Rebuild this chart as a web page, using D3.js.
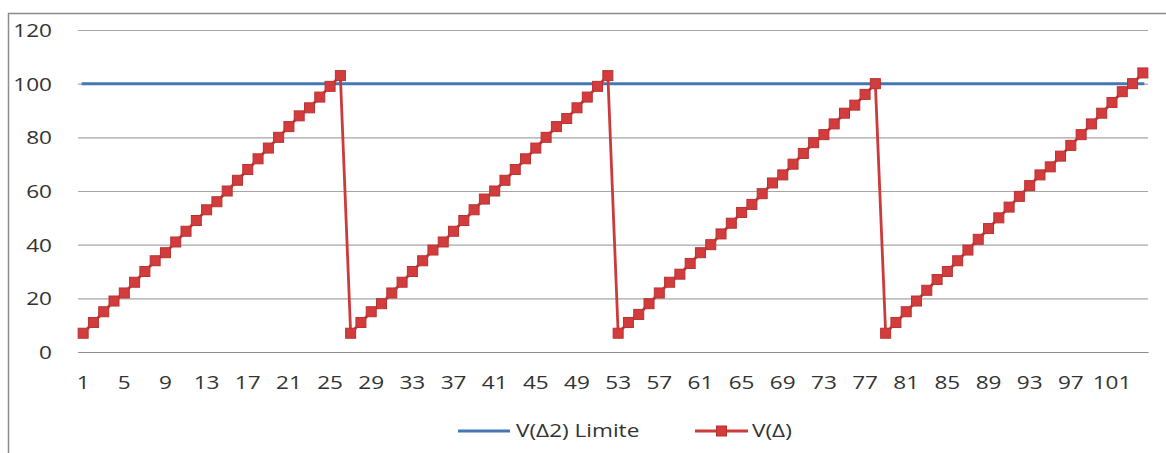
<!DOCTYPE html>
<html>
<head>
<meta charset="utf-8">
<script src="https://cdn.jsdelivr.net/npm/d3@7"></script>
<style>
  html, body { margin: 0; padding: 0; background: #ffffff; }
  svg { display: block; }
  text { font-family: "Open Sans", sans-serif; fill: #333333; }
</style>
</head>
<body>
<svg id="chart" width="1166" height="453"></svg>
<script>
// ---- data ----
const categories = d3.range(1, 105); // 1..104
const limitName = "V(Δ2) Limite";
const seriesName = "V(Δ)";
const limitValues = categories.map(() => 100);
const vDelta = [
  7, 11, 15, 19, 22, 26, 30, 34, 37, 41, 45, 49, 53, 56, 60, 64, 68, 72, 76, 80, 84, 88, 91, 95, 99, 103,
  7, 11, 15, 18, 22, 26, 30, 34, 38, 41, 45, 49, 53, 57, 60, 64, 68, 72, 76, 80, 84, 87, 91, 95, 99, 103,
  7, 11, 14, 18, 22, 26, 29, 33, 37, 40, 44, 48, 52, 55, 59, 63, 66, 70, 74, 78, 81, 85, 89, 92, 96, 100,
  7, 11, 15, 19, 23, 27, 30, 34, 38, 42, 46, 50, 54, 58, 62, 66, 69, 73, 77, 81, 85, 89, 93, 97, 100, 104
];
const yTicks = [0, 20, 40, 60, 80, 100, 120];
const xTickLabels = categories.filter((d, i) => i % 4 === 0); // 1,5,9,...,101

// ---- layout ----
const svg = d3.select("#chart");
const plot = { left: 78, right: 1148, top: 30, bottom: 352 };
const SX = 1.22; // horizontal text stretch
const fontSize = 18.5;
const textColor = "#333333";

const x = d3.scaleBand().domain(categories).range([plot.left, plot.right]).padding(0);
const cx = d => x(d) + x.bandwidth() / 2;
const y = d3.scaleLinear().domain([0, 120]).range([plot.bottom, plot.top]);

// outer frame
svg.append("rect")
  .attr("x", 8.5).attr("y", 13.5)
  .attr("width", 1170).attr("height", 460)
  .attr("fill", "#ffffff").attr("stroke", "#8c8c8c").attr("stroke-width", 1.5);

// y axis with gridlines
const yAxis = d3.axisLeft(y).tickValues(yTicks).tickSize(-(plot.right - plot.left)).tickPadding(0);
const gy = svg.append("g").attr("transform", `translate(${plot.left},0)`).call(yAxis);
gy.select(".domain").remove();
gy.selectAll(".tick line").attr("stroke", "#a6a6a6").attr("stroke-width", 1.2);
gy.selectAll(".tick text")
  .attr("x", -26 / SX)
  .attr("dy", "0.35em")
  .attr("transform", `scale(${SX},1)`)
  .style("font-size", fontSize + "px")
  .style("font-family", '"Open Sans", sans-serif')
  .attr("fill", textColor)
  .attr("text-anchor", "end");

// x axis
const xAxis = d3.axisBottom(x).tickValues(xTickLabels).tickSize(0).tickPadding(0);
const gx = svg.append("g").attr("transform", `translate(0,${plot.bottom})`).call(xAxis);
gx.select(".domain").attr("stroke", "#8c8c8c").attr("stroke-width", 1.2);
gx.selectAll(".tick text")
  .attr("y", 37)
  .attr("dy", 0)
  .attr("transform", `scale(${SX},1)`)
  .attr("x", 0)
  .style("font-size", fontSize + "px")
  .style("font-family", '"Open Sans", sans-serif')
  .attr("fill", textColor)
  .attr("text-anchor", "middle");

// limit line
const line = d3.line().x((d, i) => cx(categories[i])).y(d => y(d));
svg.append("path")
  .datum(limitValues)
  .attr("d", line)
  .attr("fill", "none")
  .attr("stroke", "#4477b4")
  .attr("stroke-width", 3)
  .attr("stroke-linecap", "square");

// V(Δ) series
svg.append("path")
  .datum(vDelta)
  .attr("d", line)
  .attr("fill", "none")
  .attr("stroke", "#cc3b3b")
  .attr("stroke-width", 2.8);

const ms = 10;
svg.append("g").selectAll("rect")
  .data(vDelta)
  .join("rect")
  .attr("x", (d, i) => cx(categories[i]) - ms / 2)
  .attr("y", d => y(d) - ms / 2)
  .attr("width", ms).attr("height", ms)
  .attr("fill", "#d23c3c")
  .attr("stroke", "#b83232")
  .attr("stroke-width", 1);

// legend
const legY = 431;
const lg = svg.append("g");
lg.append("line").attr("x1", 458).attr("x2", 510).attr("y1", legY).attr("y2", legY)
  .attr("stroke", "#4477b4").attr("stroke-width", 3);
lg.append("text").attr("x", 516 / SX).attr("y", legY).attr("dy", "0.35em")
  .attr("transform", `scale(${SX},1)`).attr("fill", textColor)
  .style("font-size", fontSize + "px").text(limitName);
lg.append("line").attr("x1", 695).attr("x2", 748).attr("y1", legY).attr("y2", legY)
  .attr("stroke", "#cc3b3b").attr("stroke-width", 2.8);
lg.append("rect").attr("x", 721.5 - ms / 2).attr("y", legY - ms / 2).attr("width", ms).attr("height", ms)
  .attr("fill", "#d23c3c").attr("stroke", "#b83232").attr("stroke-width", 1);
lg.append("text").attr("x", 752 / SX).attr("y", legY).attr("dy", "0.35em")
  .attr("transform", `scale(${SX},1)`).attr("fill", textColor)
  .style("font-size", fontSize + "px").text(seriesName);
</script>
</body>
</html>
